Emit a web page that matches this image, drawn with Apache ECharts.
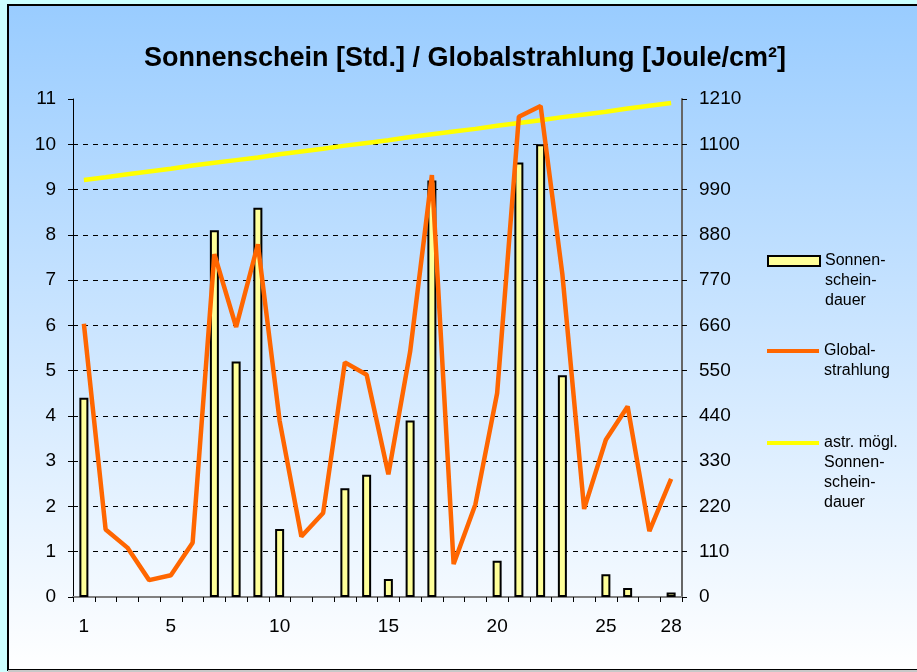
<!DOCTYPE html>
<html>
<head>
<meta charset="utf-8">
<script src="https://cdn.jsdelivr.net/npm/echarts@6/dist/echarts.min.js"></script>
<style>
  html, body { margin: 0; padding: 0; background: #ccffff; }
  #chart { width: 917px; height: 672px; }
</style>
</head>
<body>
<div id="chart"></div>
<script>
// Tage des Monats
const days = ['1', '2', '3', '4', '5', '6', '7', '8', '9', '10', '11', '12', '13', '14',
  '15', '16', '17', '18', '19', '20', '21', '22', '23', '24', '25', '26', '27', '28'];
// nur diese Tage bekommen eine Beschriftung
const shownDays = ['1', '5', '10', '15', '20', '25', '28'];

// Sonnenscheindauer [Std.]
const sunshine = [4.4, 0, 0, 0, 0, 0, 8.1, 5.2, 8.6, 1.5, 0, 0, 2.4, 2.7,
  0.4, 3.9, 9.2, 0, 0, 0.8, 9.6, 10.0, 4.9, 0, 0.5, 0.2, 0, 0.1];
// Globalstrahlung [Joule/cm²]
const radiation = [664, 164, 120, 41, 53, 132, 833, 656, 857, 428, 147, 204, 570, 540,
  298, 596, 1025, 80, 225, 495, 1167, 1193, 784, 214, 382, 463, 160, 287];
// astronomisch mögliche Sonnenscheindauer [Std.]
const possible = [9.21, 9.27, 9.34, 9.40, 9.46, 9.53, 9.59, 9.65, 9.71, 9.78, 9.84, 9.90, 9.97, 10.03,
  10.09, 10.16, 10.22, 10.28, 10.34, 10.41, 10.47, 10.53, 10.60, 10.66, 10.72, 10.79, 10.85, 10.91];

const seriesNames = ['Sonnenscheindauer', 'Globalstrahlung', 'astr. mögl. Sonnenscheindauer'];
const legendLabels = [
  ['Sonnen-', 'schein-', 'dauer'],
  ['Global-', 'strahlung'],
  ['astr. mögl.', 'Sonnen-', 'schein-', 'dauer'],
];

const font = 'Liberation Sans, Arial, sans-serif';
const chart = echarts.init(document.getElementById('chart'));

// Legendensymbol soll neben der ersten Zeile stehen -> leere Zeilen davor
const legendBase = (i, top, h) => ({
  data: [{ name: seriesNames[i], icon: 'rect' }],
  orient: 'vertical',
  left: 767,
  top: top,
  padding: 0,
  itemWidth: 52,
  itemHeight: h,
  selectedMode: false,
  formatter: () => '\n'.repeat(legendLabels[i].length - 1) + legendLabels[i].join('\n'),
  textStyle: { fontFamily: font, fontSize: 16, lineHeight: 20, color: '#000' },
});

chart.setOption({
  backgroundColor: '#ccffff',
  animation: false,
  graphic: [
    {
      type: 'rect',
      z: -10,
      shape: { x: 8, y: 5, width: 940, height: 665 },
      style: {
        fill: new echarts.graphic.LinearGradient(0, 0, 0, 1, [
          { offset: 0, color: '#99ccff' },
          { offset: 1, color: '#ffffff' },
        ]),
        stroke: '#000',
        lineWidth: 2,
      },
    },
    {
      type: 'line',
      z: -9,
      shape: { x1: 8, y1: 671, x2: 917, y2: 671 },
      style: { stroke: '#c8c8c8', lineWidth: 2 },
    },
  ],
  title: {
    text: 'Sonnenschein [Std.] / Globalstrahlung [Joule/cm²]',
    left: 139,
    top: 40,
    textStyle: { fontFamily: font, fontSize: 27, fontWeight: 'bold', color: '#000' },
  },
  legend: [
    Object.assign(legendBase(0, 211, 10), { itemStyle: { borderColor: '#000', borderWidth: 2 } }),
    legendBase(1, 321, 4),
    legendBase(2, 373, 4),
  ],
  grid: { left: 73, right: 235, top: 99, bottom: 75, outerBoundsMode: 'none' },
  xAxis: [
    {
      type: 'category',
      data: days,
      boundaryGap: true,
      axisLine: { lineStyle: { color: '#000', width: 1 } },
      axisTick: { show: true, interval: 0, length: 5, lineStyle: { color: '#000' } },
      axisLabel: {
        interval: (idx, val) => shownDays.includes(val),
        margin: 20,
        fontFamily: font,
        fontSize: 19,
        color: '#000',
      },
      splitLine: { show: false },
    },
    {
      type: 'category',
      data: days,
      position: 'top',
      axisLine: { lineStyle: { color: '#808080', width: 2 } },
      axisTick: { show: false },
      axisLabel: { show: false },
      splitLine: { show: false },
    },
  ],
  yAxis: [
    {
      type: 'value',
      min: 0,
      max: 11,
      interval: 1,
      axisLine: { show: true, lineStyle: { color: '#000', width: 1 } },
      axisTick: { show: true, length: 5, lineStyle: { color: '#000' } },
      axisLabel: { margin: 17, fontFamily: font, fontSize: 19, color: '#000' },
      splitLine: {
        show: true,
        showMinLine: false,
        showMaxLine: false,
        lineStyle: { color: '#000', width: 1, type: [5, 5] },
      },
    },
    {
      type: 'value',
      min: 0,
      max: 1210,
      interval: 110,
      position: 'right',
      axisLine: { show: true, lineStyle: { color: '#666', width: 2 } },
      axisTick: { show: true, length: 5, lineStyle: { color: '#000' } },
      axisLabel: { margin: 17, fontFamily: font, fontSize: 19, color: '#000', formatter: (v) => String(v) },
      splitLine: { show: false },
    },
  ],
  series: [
    {
      name: seriesNames[0],
      type: 'bar',
      yAxisIndex: 0,
      // Tage ohne Sonne: kein Balken
      data: sunshine.map((v) => (v === 0 ? null : v)),
      barWidth: 9,
      itemStyle: { color: '#ffff99', borderColor: '#000', borderWidth: 2 },
    },
    {
      name: seriesNames[2],
      type: 'line',
      yAxisIndex: 0,
      data: possible,
      symbol: 'none',
      lineStyle: { color: '#ffff00', width: 4.5 },
      itemStyle: { color: '#ffff00' },
    },
    {
      name: seriesNames[1],
      type: 'line',
      yAxisIndex: 1,
      data: radiation,
      symbol: 'none',
      lineStyle: { color: '#ff6600', width: 4.5 },
      itemStyle: { color: '#ff6600' },
    },
  ],
});
</script>
</body>
</html>
